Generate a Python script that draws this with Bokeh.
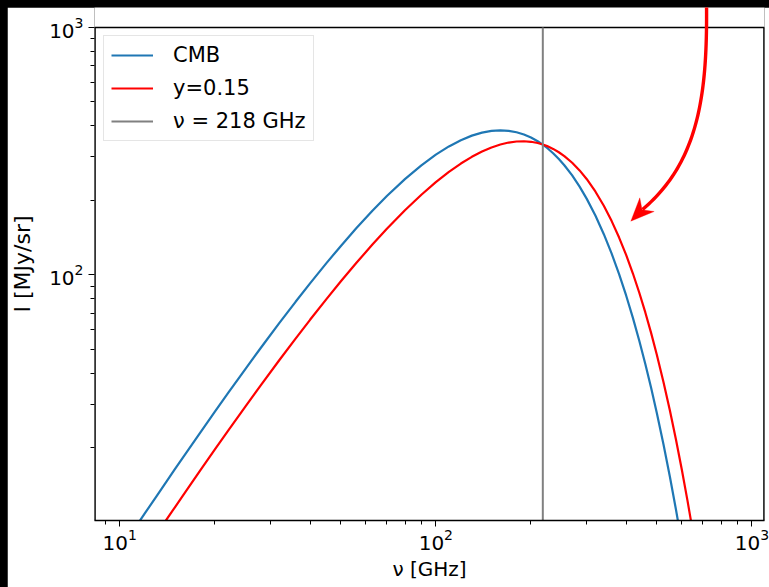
import numpy as np
from bokeh.plotting import figure
from bokeh.models import (Range1d, PolyAnnotation, Legend, LegendItem, FixedTicker,
                          LogTickFormatter)
from bokeh.embed import file_html
from bokeh.resources import INLINE

# frequencies [GHz]
nu_ghz = [10, 10.5, 11, 11.5, 12, 13, 14, 15, 16, 18, 20, 22, 25, 28, 32, 36, 40, 45, 50, 56, 63, 70,
          80, 90, 100, 110, 120, 130, 140, 150, 160, 170, 180, 190, 200, 210, 218, 225, 235, 245, 255,
          270, 285, 300, 320, 340, 360, 380, 400, 420, 440, 460, 480, 500, 525, 550, 575, 600, 625, 650,
          675, 700]
# intensity [MJy/sr], CMB
cmb = [7.658, 8.405, 9.183, 9.991, 10.83, 12.59, 14.47, 16.46, 18.56, 23.06, 27.94, 33.18, 41.66, 50.79,
       63.85, 77.74, 92.29, 111.2, 130.5, 154.1, 181.4, 208.1, 244.3, 277.2, 306.1, 330.5, 350.3, 365.4,
       375.8, 381.9, 383.9, 382.2, 377.2, 369.4, 359.2, 346.9, 336.0, 325.7, 310.2, 294.0, 277.4, 252.2,
       227.3, 203.2, 173.2, 145.9, 121.7, 100.6, 82.46, 67.11, 54.24, 43.58, 34.81, 27.67, 20.62, 15.27,
       11.23, 8.217, 5.98, 4.331, 3.123, 2.243]
# intensity [MJy/sr], y = 0.15
red = [5.367, 5.891, 6.436, 7.004, 7.592, 8.832, 10.15, 11.55, 13.03, 16.2, 19.65, 23.35, 29.36, 35.86,
       45.2, 55.19, 65.74, 79.54, 93.87, 111.5, 132.5, 153.4, 182.7, 210.7, 236.8, 260.6, 281.7, 299.9,
       315.1, 327.3, 336.4, 342.6, 346.0, 346.7, 345.0, 341.0, 336.4, 331.4, 322.9, 313.0, 302.0, 283.8,
       264.3, 244.0, 216.7, 190.1, 164.8, 141.4, 120.3, 101.4, 84.79, 70.41, 58.08, 47.61, 36.85, 28.29,
       21.55, 16.31, 12.26, 9.169, 6.818, 5.044]
nu_line = 218
labels = ["CMB", "y=0.15", "ν = 218 GHz"]
y_major = [100, 1000]
y_minor = [20, 30, 40, 50, 60, 70, 80, 90, 200, 300, 400, 500, 600, 700, 800, 900]

# axes limits (axes box spans y_lo..y_hi; canvas frame extends a little higher for the arrow)
x_lo, x_hi = 8.32, 1096
y_lo, y_hi = 10.14, 1000
y_top = 1205
OFF = 7                      # dark screenshot edge at top and left
W, H = 769 - OFF, 587 - OFF
FL, FT, FW, FH = 85, 0, 670, 513

p = figure(x_axis_type="log", y_axis_type="log", x_range=Range1d(x_lo, x_hi), y_range=Range1d(y_lo, y_top),
           frame_width=FW, frame_height=FH, min_border_left=FL, min_border_right=W - FL - FW,
           min_border_top=FT, min_border_bottom=H - FT - FH, output_backend="svg", toolbar_location=None,
           background_fill_color="white", border_fill_color="white", outline_line_color=None)
p.grid.visible = False
p.yaxis.ticker = FixedTicker(ticks=y_major, minor_ticks=y_minor)
p.yaxis.formatter = LogTickFormatter()
for ax in (p.xaxis[0], p.yaxis[0]):
    ax.major_label_text_font = "DejaVu Sans"
    ax.major_label_text_font_size = "20px"
    ax.major_label_text_color = "#000000"
    ax.axis_label_text_font = "DejaVu Sans"
    ax.axis_label_text_font_style = "normal"
    ax.axis_label_text_color = "#000000"
    ax.major_tick_out = 6
    ax.major_tick_in = 0
    ax.minor_tick_out = 4
    ax.minor_tick_in = 0
    ax.axis_line_color = "#000000"
    ax.axis_line_width = 1.3
    ax.major_tick_line_color = "#000000"
    ax.minor_tick_line_color = "#000000"
p.yaxis.axis_line_color = None
p.xaxis.axis_label = "ν [GHz]"
p.yaxis.axis_label = "I [MJy/sr]"
p.xaxis.axis_label_text_font_size = "20px"
p.yaxis.axis_label_text_font_size = "22px"
p.xaxis.major_label_standoff = 2
p.yaxis.major_label_standoff = 5
p.xaxis.axis_label_standoff = 4
p.yaxis.axis_label_standoff = 11

# axes box (spines)
p.line([x_lo, x_hi], [y_hi, y_hi], color="#000000", line_width=1.3)
p.line([x_lo, x_lo], [y_lo, y_hi], color="#000000", line_width=2.6)
p.line([x_hi, x_hi], [y_lo, y_hi], color="#000000", line_width=2.6)

r1 = p.line(nu_ghz, cmb, color="#1f77b4", line_width=2.2)
r2 = p.line(nu_ghz, red, color="#ff0000", line_width=2.2)
r3 = p.line([nu_line, nu_line], [y_lo, y_hi], color="#808080", line_width=2)

legend = Legend(items=[LegendItem(label=labels[0], renderers=[r1]),
                       LegendItem(label=labels[1], renderers=[r2]),
                       LegendItem(label=labels[2], renderers=[r3])],
                location=(9, 379), label_text_font="DejaVu Sans", label_text_font_size="21px",
                label_text_color="#000000",
                glyph_width=42, label_standoff=20, padding=7, spacing=9, label_height=23,
                border_line_color="#cccccc", background_fill_alpha=0.8, margin=0)
p.add_layout(legend)

# red curved arrow, drawn in page pixel geometry mapped to data coordinates
def to_data(px, py):
    px = np.asarray(px, float); py = np.asarray(py, float)
    fx = (px - OFF - FL) / FW
    fy = (py - OFF - FT) / FH
    lx = np.log10(x_lo) + fx * (np.log10(x_hi) - np.log10(x_lo))
    ly = np.log10(y_top) - fy * (np.log10(y_top) - np.log10(y_lo))
    return list(10**lx), list(10**ly)

P = np.array([[704, 0], [705, 90], [698, 160], [640, 209]], float)
t = np.linspace(0, 1, 60)[:, None]
B = (1-t)**3*P[0] + 3*(1-t)**2*t*P[1] + 3*(1-t)*t**2*P[2] + t**3*P[3]
B = np.vstack([[704, -20], B])
d = np.gradient(B, axis=0)
d /= np.linalg.norm(d, axis=1)[:, None]
n = np.stack([-d[:, 1], d[:, 0]], axis=1)
w = 1.7
ring = np.vstack([B + n*w, (B - n*w)[::-1]])
ax_, ay_ = to_data(ring[:, 0], ring[:, 1])
p.add_layout(PolyAnnotation(xs=ax_, ys=ay_, xs_units="data", ys_units="data",
                            fill_color="#ff0000", fill_alpha=1, line_alpha=0))
head = np.array([[628.3, 220.7], [637.3, 197.3], [639.6, 209.2], [651.7, 211.0]])
hx, hy = to_data(head[:, 0], head[:, 1])
p.add_layout(PolyAnnotation(xs=hx, ys=hy, xs_units="data", ys_units="data",
                            fill_color="#ff0000", fill_alpha=1, line_color="#ff0000", line_width=1))

html = file_html(p, INLINE)
css = ("<style>html, body { background-color: #000000 !important; } "
       "body { padding: %dpx 0 0 %dpx !important; margin: 0 !important; overflow: hidden !important; }"
       "</style>" % (OFF, OFF))
html = html.replace("</head>", css + "</head>", 1)
open("out.html", "w").write(html)
